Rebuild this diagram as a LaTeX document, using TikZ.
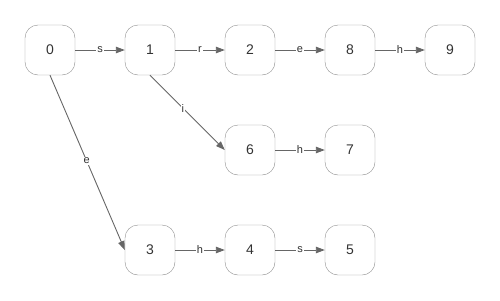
\documentclass[tikz,border=0pt]{standalone}
\usepackage{fontspec}
\setmainfont{Liberation Sans}
\usetikzlibrary{arrows.meta}

\tikzset{
  state/.style={draw=black!45, rounded corners=13pt, minimum width=50pt, minimum height=50pt,
    inner sep=0pt, font=\fontsize{14}{16}\selectfont, text=black!80},
  trans/.style={draw=black!60, line width=0.9pt, -{Triangle[length=9pt, width=6.5pt]}},
  lbl/.style={fill=white, inner sep=1pt, font=\fontsize{11}{13}\selectfont, text=black!80}
}

\begin{document}
\begin{tikzpicture}[x=1pt, y=-1pt]
  \useasboundingbox (0,0) rectangle (500,300);

  % === STATES ===
  \node[state] (n0) at (50,50)  {0};
  \node[state] (n1) at (150,50) {1};
  \node[state] (n2) at (250,50) {2};
  \node[state] (n8) at (350,50) {8};
  \node[state] (n9) at (450,50) {9};

  \node[state] (n6) at (250,150) {6};
  \node[state] (n7) at (350,150) {7};

  \node[state] (n3) at (150,250) {3};
  \node[state] (n4) at (250,250) {4};
  \node[state] (n5) at (350,250) {5};

  % === TRANSITIONS ===
  \draw[trans] (n0) -- node[lbl]{s} (n1);
  \draw[trans] (n1) -- node[lbl]{r} (n2);
  \draw[trans] (n2) -- node[lbl]{e} (n8);
  \draw[trans] (n8) -- node[lbl]{h} (n9);

  \draw[trans] (n1.south) -- node[lbl, pos=0.44]{i} (n6.west);
  \draw[trans] (n6) -- node[lbl]{h} (n7);

  \draw[trans] (n0.south) -- node[lbl, pos=0.49]{e} (n3.west);
  \draw[trans] (n3) -- node[lbl]{h} (n4);
  \draw[trans] (n4) -- node[lbl]{s} (n5);
\end{tikzpicture}
\end{document}
